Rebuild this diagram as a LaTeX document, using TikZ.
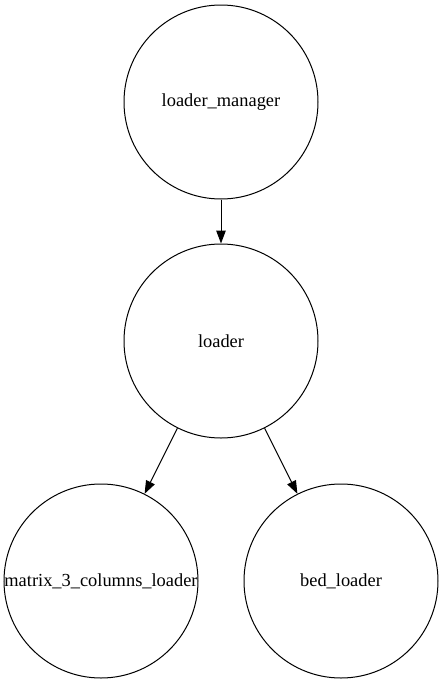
\documentclass[tikz,border=0pt]{standalone}
\usepackage{fontspec}
\setmainfont{Liberation Serif}
\usetikzlibrary{arrows.meta}
\begin{document}
\begin{tikzpicture}[x=1pt,y=-1pt,
  gnode/.style={circle,draw,line width=1pt,minimum size=194pt,inner sep=0pt,font=\fontsize{18.4}{20}\selectfont},
  garrow/.style={line width=1pt,-{Triangle[length=13pt,width=9.5pt]}}]
\useasboundingbox (0,0) rectangle (443,683);
\node[gnode] (lm) at (221,102) {loader\_manager};
\node[gnode] (l) at (221,341) {loader};
\node[gnode] (m) at (101,581) {matrix\_3\_columns\_loader};
\node[gnode] (b) at (341,581) {bed\_loader};
\draw[garrow] (lm) -- (l);
\draw[garrow] (l) -- (m);
\draw[garrow] (l) -- (b);
\end{tikzpicture}
\end{document}
